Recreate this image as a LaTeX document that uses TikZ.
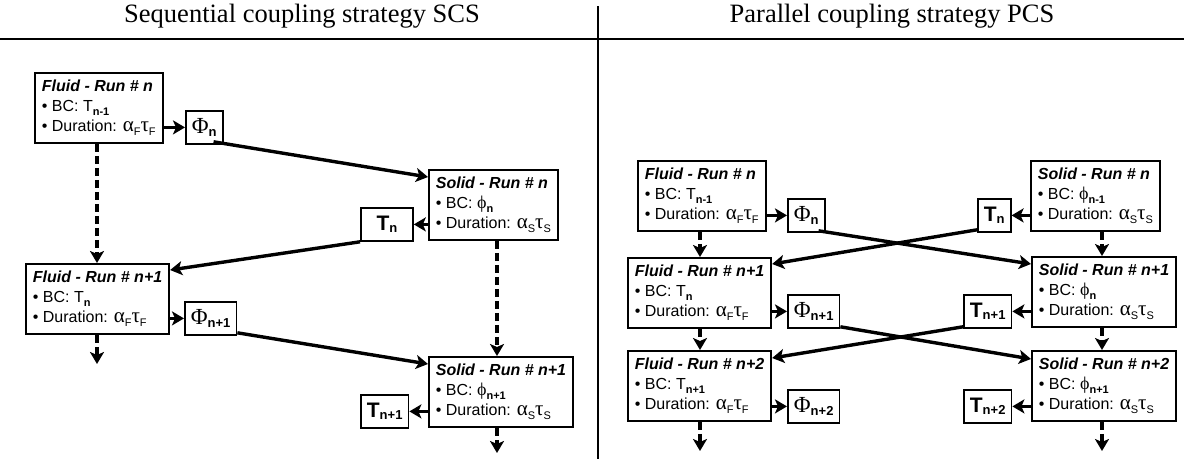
\documentclass[tikz,border=0pt]{standalone}
\usepackage{fontspec}
\setmainfont{Liberation Sans}
\newfontfamily\titlefont{Liberation Serif}
\newfontfamily\grkfont{Liberation Serif}
\usetikzlibrary{arrows.meta,positioning}

\newcommand{\lo}[1]{\raisebox{-0.45ex}{\fontsize{11}{11}\selectfont #1}}
\newcommand{\gk}[1]{{\grkfont\fontsize{21}{21}\selectfont #1}}
\newcommand{\runhead}[2]{\textbf{\textit{#1 - Run \# #2}}}
\newcommand{\fluidrun}[2]{\runhead{Fluid}{#1}\\ \textbullet{} BC: T\lo{\bfseries #2}\\ \textbullet{} Duration: \gk{α}\lo{F}\gk{τ}\lo{F}}
\newcommand{\solidrun}[2]{\runhead{Solid}{#1}\\ \textbullet{} BC: {\grkfont\fontsize{18}{18}\selectfont ϕ}\lo{\bfseries #2}\\ \textbullet{} Duration: \gk{α}\lo{S}\gk{τ}\lo{S}}
\newcommand{\phiflux}[1]{{\grkfont\fontsize{23}{23}\selectfont Φ}\lo{\bfseries\fontsize{13}{13}\selectfont #1}}
\newcommand{\tflux}[1]{{\bfseries\fontsize{21}{21}\selectfont T}\lo{\bfseries\fontsize{13}{13}\selectfont #1}}

\begin{document}
\begin{tikzpicture}[
	x=1pt, y=-1pt,
	run/.style={draw, line width=1.8pt, align=left, anchor=north west, inner xsep=7pt,
		inner ysep=5pt, minimum height=70pt, font=\fontsize{16}{20}\selectfont},
	flux/.style={draw, line width=1.8pt, anchor=north west, minimum height=33pt, inner xsep=6pt},
	link/.style={line width=3.4pt, -{Stealth[length=12pt,width=14pt,inset=3pt]}},
	next/.style={link, dash pattern=on 8pt off 4pt},
	]
	\useasboundingbox (0,0) rectangle (1184,459);
	
	% headings and frame
	\node[font=\titlefont\fontsize{26.5}{26.5}\selectfont] (scs) at (302,16) {Sequential coupling strategy SCS};
	\node[font=\titlefont\fontsize{26.5}{26.5}\selectfont] (pcs) at (892,16) {Parallel coupling strategy PCS};
	\draw[line width=2.2pt] (0,39) -- (1184,39);
	\draw[line width=2.2pt] (598,6) -- (598,459);
	
	% sequential
	\node[run] (flA) at (34,72) {\fluidrun{n}{n-1}};
	\node[flux] (phA) at (185,110) {\phiflux{n}};
	\node[run] (soA) at (428,169) {\solidrun{n}{n}};
	\node[flux, minimum width=52pt] (tA) at (360,207) {\tflux{n}};
	\node[run] (flB) at (25,263) {\fluidrun{n+1}{n}};
	\node[flux] (phB) at (184,301) {\phiflux{n+1}};
	\node[run] (soB) at (428,356) {\solidrun{n+1}{n+1}};
	\node[flux] (tB) at (360,394) {\tflux{n+1}};
	\coordinate (endFl) at (97,364);
	\coordinate (endSo) at (497,453);
	
	\draw[link] (flA.east |- phA.west) -- (phA.west);
	\draw[link] ([xshift=-10pt,yshift=3pt]phA.south east) -- ([yshift=-8pt]soA.north west);
	\draw[link] (soA.west |- tA.east) -- (tA.east);
	\draw[link] (tA.south west) -- ([yshift=-7pt]flB.north east);
	\draw[link] (flB.east |- phB.west) -- (phB.west);
	\draw[link] ([yshift=3pt]phB.south east) -- ([yshift=-8pt]soB.north west);
	\draw[link] (soB.west |- tB.east) -- (tB.east);
	\draw[next] (flA.south -| endFl) -- (flB.north -| endFl);
	\draw[next] (soA.south -| endSo) -- (soB.north -| endSo);
	\draw[next] (flB.south -| endFl) -- (endFl);
	\draw[next] (soB.south -| endSo) -- (endSo);
	
	% parallel
	\node[run] (pfA) at (637,160) {\fluidrun{n}{n-1}};
	\node[flux] (ppA) at (787,198) {\phiflux{n}};
	\node[run] (pfB) at (627,257) {\fluidrun{n+1}{n}};
	\node[flux] (ppB) at (787,294) {\phiflux{n+1}};
	\node[run] (pfC) at (627,350) {\fluidrun{n+2}{n+1}};
	\node[flux] (ppC) at (787,389) {\phiflux{n+2}};
	\node[run] (psA) at (1030,160) {\solidrun{n}{n-1}};
	\node[flux] (ptA) at (977,198) {\tflux{n}};
	\node[run] (psB) at (1031,256) {\solidrun{n+1}{n}};
	\node[flux] (ptB) at (963,294) {\tflux{n+1}};
	\node[run] (psC) at (1031,350) {\solidrun{n+2}{n+1}};
	\node[flux] (ptC) at (963,389) {\tflux{n+2}};
	\coordinate (endPf) at (700,451);
	\coordinate (endPs) at (1102,451);
	
	\foreach \f/\p in {pfA/ppA, pfB/ppB, pfC/ppC}
		\draw[link] (\f.east |- \p.west) -- (\p.west);
	\foreach \s/\t in {psA/ptA, psB/ptB, psC/ptC}
		\draw[link] (\s.west |- \t.east) -- (\t.east);
	\draw[link] ([xshift=-7pt,yshift=2pt]ppA.south east) -- ([yshift=-8pt]psB.north west);
	\draw[link] ([yshift=3pt]ptA.south west) -- ([yshift=-7pt]pfB.north east);
	\draw[link] ([yshift=2pt]ppB.south east) -- ([yshift=-9pt]psC.north west);
	\draw[link] ([yshift=2pt]ptB.south west) -- ([yshift=-8pt]pfC.north east);
	\draw[next] (pfA.south -| endPf) -- (pfB.north -| endPf);
	\draw[next] (pfB.south -| endPf) -- (pfC.north -| endPf);
	\draw[next] (pfC.south -| endPf) -- (endPf);
	\draw[next] (psA.south -| endPs) -- (psB.north -| endPs);
	\draw[next] (psB.south -| endPs) -- (psC.north -| endPs);
	\draw[next] (psC.south -| endPs) -- (endPs);
\end{tikzpicture}
\end{document}
